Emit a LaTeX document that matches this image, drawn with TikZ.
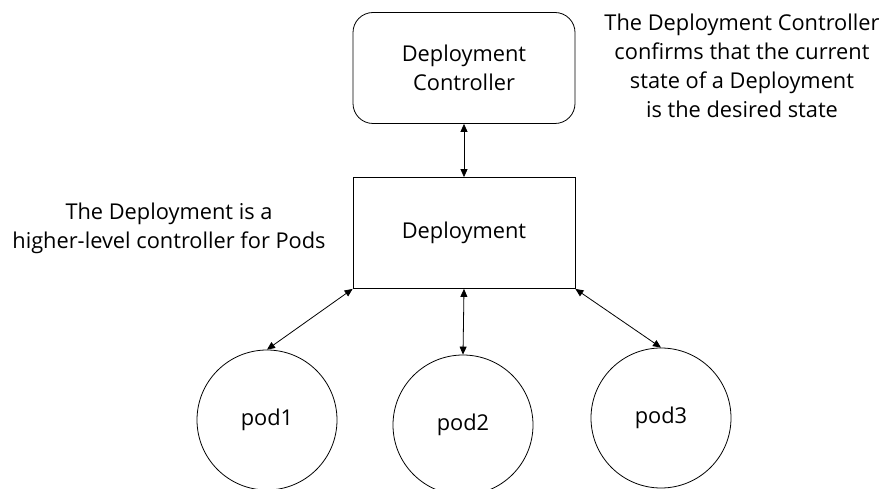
\documentclass[tikz,border=0pt]{standalone}
\usepackage{fontspec}
\setmainfont{Open Sans}
\usetikzlibrary{arrows.meta}
\begin{document}
\begin{tikzpicture}[x=1pt,y=-1pt,
  every node/.style={font=\fontsize{21.8}{29}\selectfont, align=center},
  box/.style={draw, line width=0.8pt, minimum width=222pt, minimum height=111pt, inner sep=0pt},
  pod/.style={draw, circle, line width=0.8pt, minimum size=140pt, inner sep=0pt},
  link/.style={line width=0.8pt, {Triangle[length=8pt,width=7pt]}-{Triangle[length=8pt,width=7pt]}},
  note/.style={inner sep=0pt}]
\useasboundingbox (0,0) rectangle (887,489);
\node[box, rounded corners=20pt] (ctrl) at (464,68) {Deployment\\Controller};
\node[box] (dep) at (464,233) {Deployment};
\node[pod] (pod1) at (267,420) {pod1};
\node[pod] (pod2) at (463,425) {pod2};
\node[pod] (pod3) at (661,418) {pod3};
\draw[link] (ctrl.south) -- (dep.north);
\draw[link] (dep.south west) -- (pod1.north);
\draw[link] (dep.south) -- (pod2.north);
\draw[link] (dep.south east) -- (pod3.north);
\node[note] (n1) at (742,66) {The Deployment Controller\\confirms that the current\\state of a Deployment\\is the desired state};
\node[note] (n2) at (169,228) {The Deployment is a\\higher-level controller for Pods};
\end{tikzpicture}
\end{document}
